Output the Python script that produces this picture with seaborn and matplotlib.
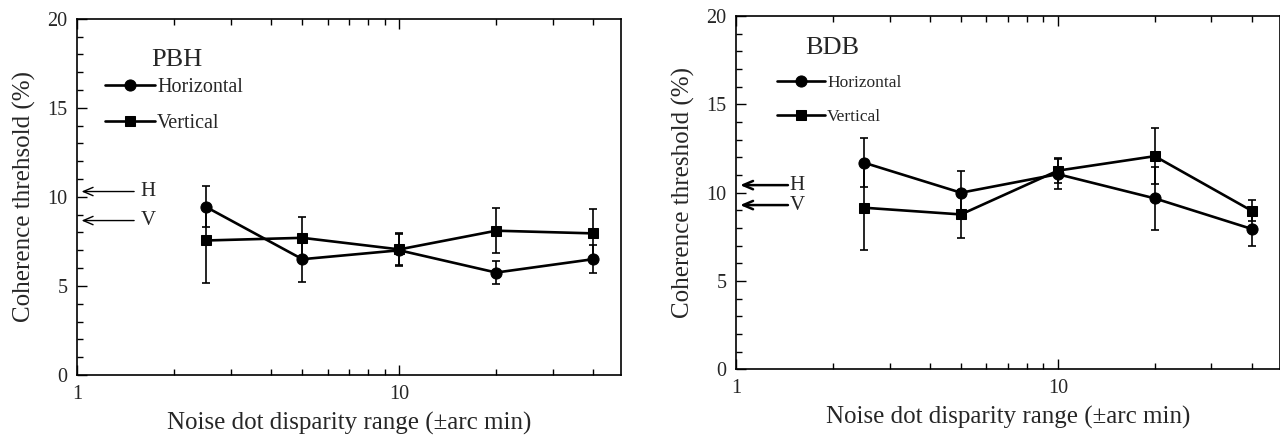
import matplotlib
matplotlib.use("Agg")
import matplotlib.pyplot as plt
import matplotlib.ticker as mticker
import seaborn as sns

# noise dot disparity ranges (arc min)
disparity = [2.5, 5, 10, 20, 40]

# observer PBH
pbh_h = [9.45, 6.5, 7.0, 5.75, 6.5]
pbh_h_err = [1.15, 1.26, 0.9, 0.65, 0.8]
pbh_v = [7.55, 7.7, 7.05, 8.1, 7.95]
pbh_v_err_lo = [2.4, 1.16, 0.9, 1.25, 1.37]
pbh_v_err_hi = [1.9, 1.16, 0.9, 1.25, 1.37]
pbh_ref = [("H", 10.3), ("V", 8.67)]

# observer BDB
bdb_h = [11.7, 10.0, 11.05, 9.68, 7.95]
bdb_h_err = [1.38, 1.22, 0.85, 1.8, 0.94]
bdb_v = [9.15, 8.77, 11.25, 12.07, 8.98]
bdb_v_err = [2.4, 1.36, 0.69, 1.6, 0.59]
bdb_ref = [("H", 10.43), ("V", 9.3)]

sns.set_style("ticks")
plt.rcParams["font.family"] = ["Liberation Serif", "DejaVu Serif"]

fig = plt.figure(figsize=(12.8, 4.37), dpi=100)
ax1 = fig.add_axes([0.0605, 0.142, 0.425, 0.815])
ax2 = fig.add_axes([0.575, 0.155, 0.425, 0.808])


def draw_panel(ax, name, ylabel, h, h_err, v, v_err, refs, leg_pos, name_pos,
               leg_fs, leg_space, leg_hlen, arrow_lw, arrow_tail, ref_x):
    ax.errorbar(disparity, h, yerr=h_err, fmt="none", ecolor="black",
                elinewidth=1.2, capsize=3, capthick=1.2)
    ax.errorbar(disparity, v, yerr=v_err, fmt="none", ecolor="black",
                elinewidth=1.2, capsize=3, capthick=1.2)
    sns.lineplot(x=disparity, y=h, ax=ax, color="black", lw=1.9, marker="o",
                 markersize=8, markeredgecolor="black", label="Horizontal")
    sns.lineplot(x=disparity, y=v, ax=ax, color="black", lw=1.9, marker="s",
                 markersize=7.5, markeredgecolor="black", label="Vertical")

    ax.set_xscale("log")
    ax.set_xlim(1, 49)
    ax.set_ylim(0, 20)
    ax.xaxis.set_major_locator(mticker.FixedLocator([1, 10]))
    ax.xaxis.set_major_formatter(mticker.FixedFormatter(["1", "10"]))
    ax.xaxis.set_minor_locator(mticker.LogLocator(subs=range(2, 10)))
    ax.xaxis.set_minor_formatter(mticker.NullFormatter())
    ax.yaxis.set_major_locator(mticker.MultipleLocator(5))
    ax.yaxis.set_minor_locator(mticker.MultipleLocator(1))
    ax.tick_params(which="both", direction="in", top=True, right=False,
                   labelsize=14.5, color="black", width=1)
    ax.tick_params(which="major", length=7, pad=7)
    ax.tick_params(which="minor", length=4)
    for sp in ax.spines.values():
        sp.set_linewidth(1.2)
        sp.set_color("black")

    ax.set_xlabel("Noise dot disparity range (\u00b1arc min)", fontsize=18,
                  labelpad=6)
    ax.set_ylabel(ylabel, fontsize=18, labelpad=8)

    ax.text(name_pos[0], name_pos[1], name, transform=ax.transAxes,
            fontsize=19, va="center", ha="left")
    ax.legend(loc="upper left", bbox_to_anchor=leg_pos, frameon=False,
              fontsize=leg_fs, handlelength=leg_hlen, handletextpad=0.1,
              labelspacing=leg_space, borderpad=0, borderaxespad=0)

    for lab, yv in refs:
        ax.annotate("", xy=(1.03, yv), xytext=(arrow_tail, yv),
                    arrowprops=dict(arrowstyle="->,head_length=0.7,head_width=0.3",
                                    lw=arrow_lw, color="black",
                                    shrinkA=0, shrinkB=0))
        ax.text(ref_x, yv, lab, fontsize=15, va="center", ha="left")


draw_panel(ax1, "PBH", "Coherence threhsold (%)", pbh_h, pbh_h_err, pbh_v,
           [pbh_v_err_lo, pbh_v_err_hi], pbh_ref, (0.05, 0.835), (0.135, 0.885),
           14.5, 0.85, 2.5, 1.0, 1.5, 1.57)
draw_panel(ax2, "BDB", "Coherence threshold (%)", bdb_h, bdb_h_err, bdb_v,
           bdb_v_err, bdb_ref, (0.075, 0.835), (0.128, 0.91),
           12.5, 1.07, 2.8, 1.8, 1.45, 1.47)

fig.savefig("out.png", dpi=100)
